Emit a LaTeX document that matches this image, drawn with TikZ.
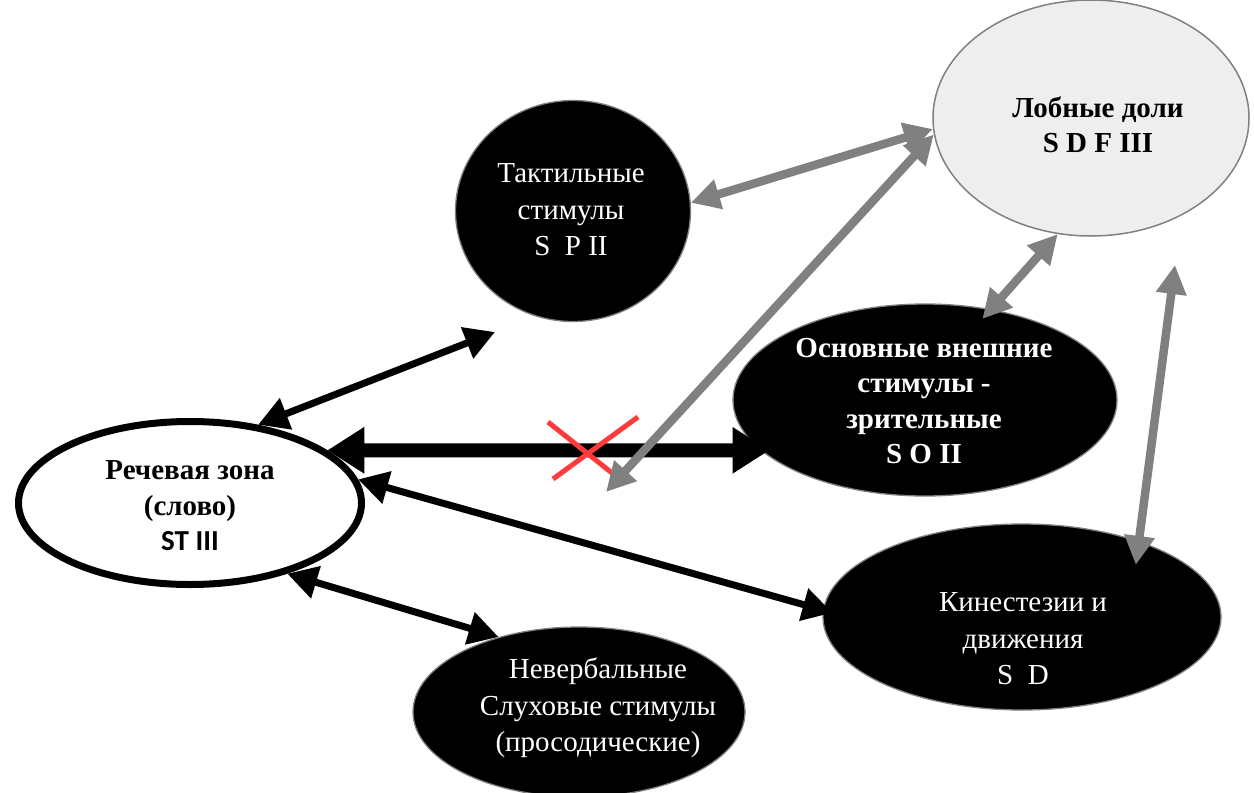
\documentclass[tikz,border=0pt]{standalone}
\usepackage{fontspec}
\setmainfont{Liberation Serif}
\newfontfamily\calib{Carlito}
\usetikzlibrary{arrows.meta,shapes.geometric}
\definecolor{arrgray}{HTML}{808080}
\definecolor{lobfill}{HTML}{EEEEEE}
\definecolor{xred}{HTML}{FF3B3B}
\begin{document}
\begin{tikzpicture}[x=1pt,y=-1pt,
  txt/.style={font=\fontsize{29}{36.5}\selectfont, align=center, inner sep=0pt},
  btxt/.style={txt, font=\fontsize{29}{35.5}\selectfont\bfseries},
  blk/.style={ellipse, fill=black, draw=arrgray, line width=1.3pt, inner sep=0pt},
  thinarr/.style={line width=7pt, {Triangle[length=30pt,width=32pt]}-{Triangle[length=30pt,width=32pt]}},
  thickarr/.style={line width=14pt, {Triangle[length=37pt,width=44pt]}-{Triangle[length=37pt,width=44pt]}},
  grayarr/.style={draw=arrgray, line width=8.5pt, {Triangle[length=29pt,width=29pt]}-{Triangle[length=29pt,width=29pt]}},
  cross/.style={draw=xred, line width=5pt}
]
\useasboundingbox (0,0) rectangle (1254,793);

% ellipses
\node[ellipse, draw=black, fill=white, line width=7pt, inner sep=0pt,
      minimum width=343pt, minimum height=163pt] (rech) at (190,503) {};
\node[blk, minimum width=235pt, minimum height=221pt] (takt) at (573,211) {};
\node[ellipse, fill=lobfill, draw=arrgray, line width=1.5pt, inner sep=0pt,
      minimum width=316pt, minimum height=236pt] (lob) at (1091,118) {};
\node[blk, minimum width=384pt, minimum height=192pt] (osn) at (925,400) {};
\node[blk, minimum width=398pt, minimum height=186pt] (kin) at (1022,617) {};
\node[blk, minimum width=332pt, minimum height=170pt] (nev) at (579,712) {};

% texts
\node[btxt] (rechT) at (190,506) {Речевая зона\\(слово)\\{\calib ST III}};
\node[txt, text=white] (taktT) at (571,210) {Тактильные\\стимулы\\S\ \ P II};
\node[btxt] (lobT) at (1098,125) {Лобные доли\\S D F III};
\node[btxt, text=white] (osnT) at (924,401) {Основные внешние\\стимулы -\\зрительные\\S O II};
\node[txt, text=white] (kinT) at (1023,639) {Кинестезии и\\движения\\S\ \ D};
\node[txt, text=white] (nevT) at (598,708) {Невербальные\\Слуховые стимулы\\(просодические)};

% free ends
\coordinate (c1) at (495,332);
\coordinate (c6) at (606,492);
\coordinate (c8) at (1175,265);

% black connectors
\draw[thinarr] (rech.49) -- (c1);
\draw[thickarr, shorten >=-9pt] (rech.21) -- (osn.197);
\draw[thinarr, shorten >=-10pt] (rech.8) -- (kin.178);
\draw[thinarr] (rech.-36) -- (nev.137);

% red cross
\draw[cross] (548,422) -- (612,473);
\draw[cross] (638,417) -- (553,479);

% gray connectors
\draw[grayarr] (takt.4) -- (lob.184);
\draw[grayarr] (c6) -- (lob.186);
\draw[grayarr, shorten >=-13pt] (lob.254) -- (osn.54);
\draw[grayarr, shorten >=-24pt] (c8) -- (kin.33);
\end{tikzpicture}
\end{document}
